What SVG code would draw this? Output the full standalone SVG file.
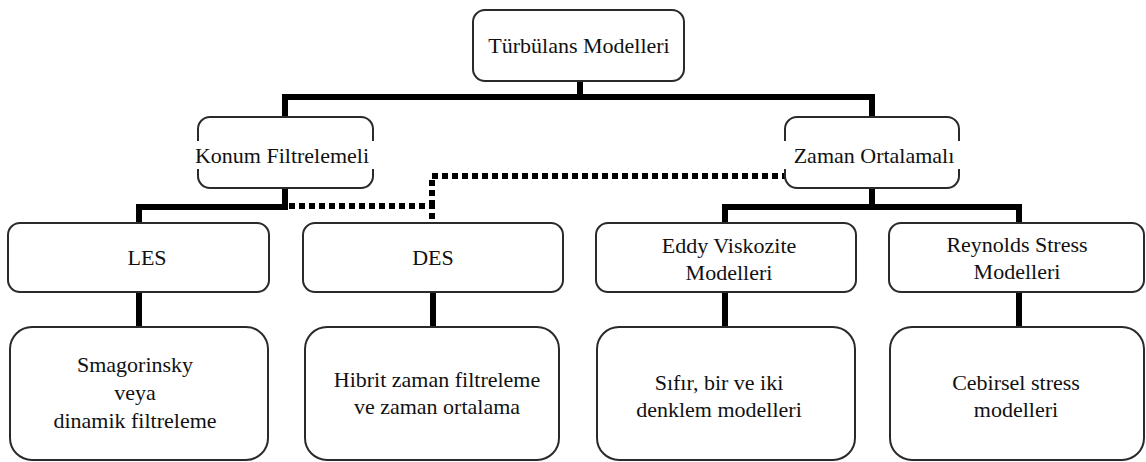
<svg xmlns="http://www.w3.org/2000/svg" width="1146" height="462" viewBox="0 0 1146 462">
  <style>
    .box { fill: #ffffff; stroke: #2a2a2a; stroke-width: 2; }
    .lbl { font-size: 22px; fill: #111; text-anchor: middle; }
    .link { fill: none; stroke: #000; stroke-width: 6; stroke-linejoin: miter; }
    .dot { fill: none; stroke: #000; stroke-width: 6; stroke-dasharray: 6 4; }
    .mask { fill: #ffffff; stroke: none; }
  </style>
  <rect width="1146" height="462" fill="#ffffff"/>

  <!-- connectors -->
  <g id="connectors">
    <path class="link" d="M580 81 V97"/>
    <path class="link" d="M285 117 V97 H872 V117"/>
    <path class="link" d="M139 223 V207 H285 V188"/>
    <path class="link" d="M725 223 V207 H1019 V223"/>
    <path class="link" d="M872 188 V207"/>
    <path class="dot" d="M289 206 H432 V223"/>
    <path class="dot" d="M432 206 V176 H785"/>
    <path class="link" d="M139 292 V327"/>
    <path class="link" d="M433 292 V327"/>
    <path class="link" d="M725 292 V327"/>
    <path class="link" d="M1019 292 V327"/>
  </g>

  <g font-family="'Liberation Serif', 'DejaVu Serif', serif">
    <!-- root -->
    <g id="node-root">
      <rect class="box" x="473" y="10" width="211" height="71" rx="12"/>
      <text class="lbl" x="579" y="53">Türbülans Modelleri</text>
    </g>

    <!-- second level -->
    <g id="node-konum">
      <rect class="box" x="198" y="117" width="175" height="71" rx="12"/>
      <rect class="mask" x="190" y="141" width="186" height="28"/>
      <text class="lbl" x="282" y="163">Konum Filtrelemeli</text>
    </g>
    <g id="node-zaman">
      <rect class="box" x="785" y="117" width="174" height="71" rx="12"/>
      <rect class="mask" x="780" y="141" width="184" height="28"/>
      <text class="lbl" x="874" y="163">Zaman Ortalamalı</text>
    </g>

    <!-- third level -->
    <g id="node-les">
      <rect class="box" x="8" y="223" width="261" height="69" rx="12"/>
      <text class="lbl" x="147" y="265">LES</text>
    </g>
    <g id="node-des">
      <rect class="box" x="303" y="223" width="260" height="69" rx="12"/>
      <text class="lbl" x="433" y="265">DES</text>
    </g>
    <g id="node-eddy">
      <rect class="box" x="596" y="223" width="260" height="69" rx="12"/>
      <text class="lbl" x="729" y="253">Eddy Viskozite</text>
      <text class="lbl" x="729" y="280">Modelleri</text>
    </g>
    <g id="node-reynolds">
      <rect class="box" x="889" y="223" width="255" height="69" rx="12"/>
      <text class="lbl" x="1017" y="252">Reynolds Stress</text>
      <text class="lbl" x="1017" y="279">Modelleri</text>
    </g>

    <!-- bottom level -->
    <g id="node-smagorinsky">
      <rect class="box" x="10" y="327" width="258" height="133" rx="22"/>
      <text class="lbl" x="135" y="372">Smagorinsky</text>
      <text class="lbl" x="135" y="400">veya</text>
      <text class="lbl" x="135" y="428">dinamik filtreleme</text>
    </g>
    <g id="node-hibrit">
      <rect class="box" x="305" y="327" width="254" height="133" rx="22"/>
      <text class="lbl" x="437" y="387">Hibrit zaman filtreleme</text>
      <text class="lbl" x="437" y="414">ve zaman ortalama</text>
    </g>
    <g id="node-denklem">
      <rect class="box" x="597" y="327" width="258" height="133" rx="22"/>
      <text class="lbl" x="719" y="390">Sıfır, bir ve iki</text>
      <text class="lbl" x="719" y="417">denklem modelleri</text>
    </g>
    <g id="node-cebirsel">
      <rect class="box" x="890" y="327" width="254" height="133" rx="22"/>
      <text class="lbl" x="1016" y="390">Cebirsel stress</text>
      <text class="lbl" x="1016" y="417">modelleri</text>
    </g>
  </g>
</svg>
